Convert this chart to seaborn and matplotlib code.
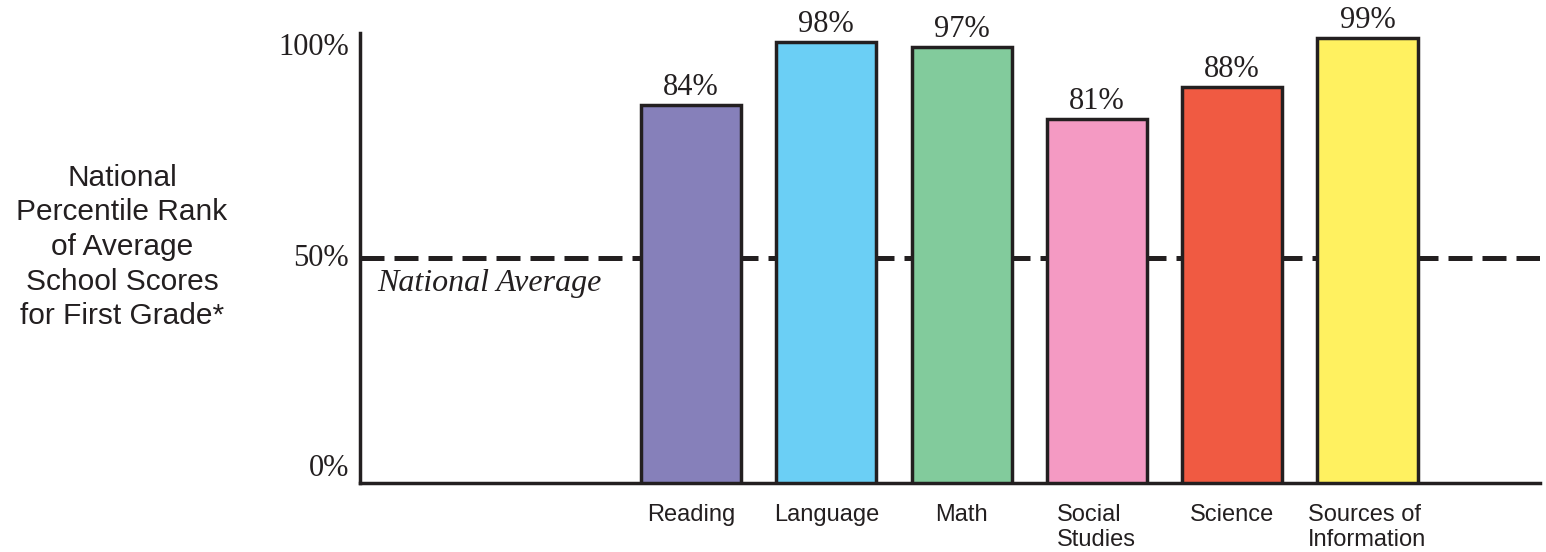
import matplotlib
matplotlib.use("Agg")
import matplotlib.pyplot as plt
import seaborn as sns
import pandas as pd

subjects = ["Reading", "Language", "Math", "Social\nStudies", "Science", "Sources of\nInformation"]
percentiles = [84, 98, 97, 81, 88, 99]
bar_colors = ["#8680BA", "#6BCFF5", "#82CB9C", "#F49AC3", "#F05A42", "#FFF160"]
national_average = 50
ytick_values = [0, 50, 100]
ytick_labels = ["0%", "50%", "100%"]

sns.set_style("white")
serif = ["Liberation Serif", "DejaVu Serif"]
sans = ["Liberation Sans", "DejaVu Sans"]
ink = "#231F20"

df = pd.DataFrame({"subject": subjects, "pct": percentiles})

fig = plt.figure(figsize=(15.46, 5.52), dpi=100)
ax = fig.add_axes([360 / 1546, 1 - 483 / 552, (1540 - 360) / 1546, (483 - 33) / 552])

sns.barplot(data=df, x="subject", y="pct", hue="subject", palette=bar_colors,
            legend=False, width=0.74, edgecolor=ink, linewidth=2.5, saturation=1,
            ax=ax, zorder=3)

# national average reference
ax.axhline(national_average, color=ink, lw=3.6, ls=(0, (4.8, 2.0)), zorder=1)
ax.text(-2.32, national_average - 2.5, "National Average", ha="left", va="top",
        fontsize=23, fontstyle="italic", family=serif, color=ink)

for i, v in enumerate(percentiles):
    ax.text(i, v + 0.6, f"{v}%", ha="center", va="bottom", fontsize=22,
            family=serif, color=ink)

ax.set_xlim(-2.446, 6.275)
ax.set_ylim(0, 100)
ax.set_yticks(ytick_values)
ax.set_yticklabels(ytick_labels, family=serif, fontsize=22, color=ink)
# labels sit just inside the axis ends, like the original
for lab, va in zip(ax.get_yticklabels(), ["bottom", "center", "top"]):
    lab.set_verticalalignment(va)
ax.set_xticks(range(len(subjects)))
ax.set_xticklabels(subjects, family=sans, fontsize=17, color=ink,
                   va="top", linespacing=1.2, multialignment="left")
ax.tick_params(axis="both", length=0)
ax.tick_params(axis="x", pad=15)
ax.tick_params(axis="y", pad=8)
ax.set_xlabel("")
ax.set_ylabel("")
sns.despine(ax=ax)
for s in ["left", "bottom"]:
    ax.spines[s].set_linewidth(2.5)
    ax.spines[s].set_color(ink)

fig.text(122 / 1546, 1 - 247 / 552,
         "National\nPercentile Rank\nof Average\nSchool Scores\nfor First Grade*",
         ha="center", va="center", fontsize=21.5, family=sans, color=ink,
         linespacing=1.3)

fig.savefig("out.png", dpi=100)
